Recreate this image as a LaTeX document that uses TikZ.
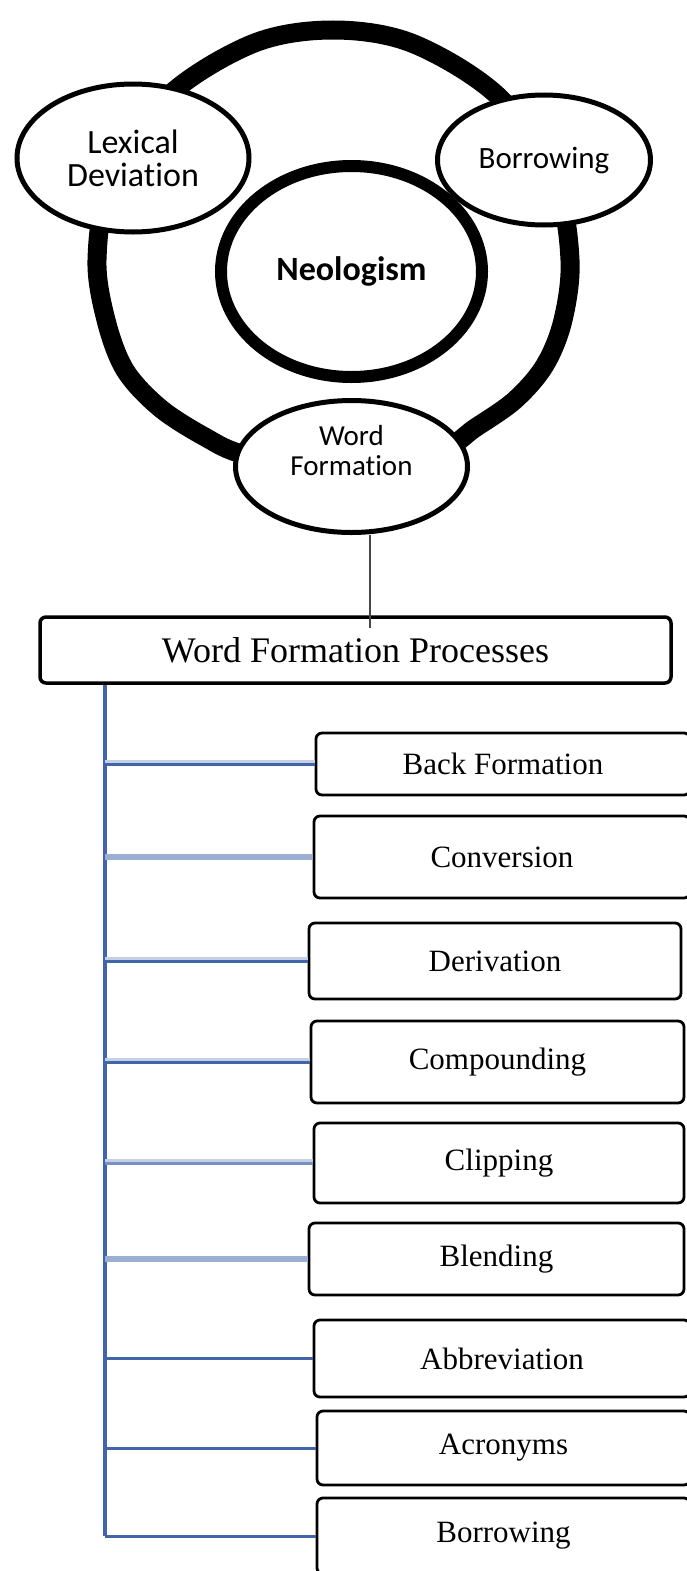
\documentclass[tikz,border=0pt]{standalone}
\usepackage{fontspec}
\setmainfont{Liberation Serif}
\newfontfamily\carlito[Ligatures=NoCommon]{Carlito}
\usetikzlibrary{shapes.geometric,calc}
\definecolor{trunkblue}{RGB}{66,101,170}
\definecolor{bandlight}{RGB}{196,208,230}
\definecolor{bandmid}{RGB}{155,175,211}
\definecolor{stemgray}{RGB}{70,70,70}
\begin{document}
\begin{tikzpicture}[x=1pt,y=-1pt,
  oval/.style={ellipse, draw=black, fill=white, line width=5pt, inner sep=0pt, align=center},
  procbox/.style={rectangle, draw=black, fill=white, line width=2.8pt, rounded corners=6pt, inner sep=0pt, font=\fontsize{31}{31}\selectfont},
  headbox/.style={rectangle, draw=black, fill=white, line width=3.5pt, rounded corners=6pt, inner sep=0pt, font=\fontsize{36}{36}\selectfont},
  trunkline/.style={draw=trunkblue, line width=3.2pt},
  darkbranch/.style={draw=trunkblue, line width=3pt},
  lightbranch/.style={draw=bandlight, line width=3pt},
  thickbranch/.style={draw=bandmid, line width=5.5pt},
  stemline/.style={draw=stemgray, line width=1.6pt}
]
\useasboundingbox (0,0) rectangle (687,1571);
\clip (0,0) rectangle (687,1571);

% ring
\draw[line width=19pt] plot[smooth cycle, tension=0.55] coordinates {
  (340,475) (245,455) (205,437) (160,408) (125,370) (106,320) (97,260)
  (110,186) (165,99) (252,44) (333,30) (414,44) (501,99) (556,186)
  (570,260) (563,320) (545,365) (515,400) (475,428) (440,450)};

% ellipses
\node[oval, line width=12pt, minimum width=261pt, minimum height=211pt,
      font=\carlito\bfseries\fontsize{34}{34}\selectfont] (neo) at (351.5,271.5) {Neologism};
\node[oval, minimum width=232pt, minimum height=148pt,
      font=\carlito\fontsize{34}{33}\selectfont] (lex) at (133,158) {Lexical\\Deviation};
\node[oval, minimum width=213pt, minimum height=130pt,
      font=\carlito\fontsize{31}{31}\selectfont] (bor) at (544,160) {Borrowing};
\node[oval, minimum width=232pt, minimum height=132pt, text depth=32pt,
      font=\carlito\fontsize{29}{30}\selectfont] (wf) at (351.5,466.5) {Word\\Formation};

% header box
\node[headbox, minimum width=631pt, minimum height=66pt] (wfp) at (355.5,650) {Word Formation Processes};

% stem from Word Formation to header box
\coordinate (stemx) at (370,0);
\draw[stemline] (wf.south -| stemx) -- ($(wfp.north -| stemx)+(0,13)$);

% process boxes
\node[procbox, minimum width=374pt, minimum height=62pt] (p1) at (503,764) {Back Formation};
\node[procbox, minimum width=376pt, minimum height=82pt] (p2) at (502,857) {Conversion};
\node[procbox, minimum width=372pt, minimum height=76pt] (p3) at (495,961) {Derivation};
\node[procbox, minimum width=373pt, minimum height=82pt] (p4) at (497.5,1062) {Compounding};
\node[procbox, minimum width=370pt, minimum height=80pt] (p5) at (499,1163) {Clipping};
\node[procbox, minimum width=375pt, minimum height=72pt] (p6) at (496.5,1259) {Blending};
\node[procbox, minimum width=376pt, minimum height=77pt] (p7) at (502,1358.5) {Abbreviation};
\node[procbox, minimum width=373pt, minimum height=74pt] (p8) at (503.5,1448) {Acronyms};
\node[procbox, minimum width=373pt, minimum height=76pt] (p9) at (503.5,1536) {Borrowing};

% trunk
\coordinate (trunk) at (105,683);
\draw[trunkline] (trunk |- wfp.south) -- (trunk |- p9.west);

% branches
\draw[lightbranch] ($(trunk |- p1.west)+(0,-3)$) -- ($(p1.west)+(0,-3)$);
\draw[darkbranch] (trunk |- p1.west) -- (p1.west);
\draw[thickbranch] (trunk |- p2.west) -- (p2.west);
\draw[lightbranch] ($(trunk |- p3.west)+(0,-3)$) -- ($(p3.west)+(0,-3)$);
\draw[darkbranch] (trunk |- p3.west) -- (p3.west);
\draw[lightbranch] ($(trunk |- p4.west)+(0,-3)$) -- ($(p4.west)+(0,-3)$);
\draw[darkbranch] (trunk |- p4.west) -- (p4.west);
\draw[lightbranch] ($(trunk |- p5.west)+(0,-3)$) -- ($(p5.west)+(0,-3)$);
\draw[darkbranch, draw=bandmid!60!trunkblue] (trunk |- p5.west) -- (p5.west);
\draw[thickbranch] (trunk |- p6.west) -- (p6.west);
\draw[darkbranch] (trunk |- p7.west) -- (p7.west);
\draw[darkbranch] (trunk |- p8.west) -- (p8.west);
\draw[darkbranch] (trunk |- p9.west) -- (p9.west);
\end{tikzpicture}
\end{document}
